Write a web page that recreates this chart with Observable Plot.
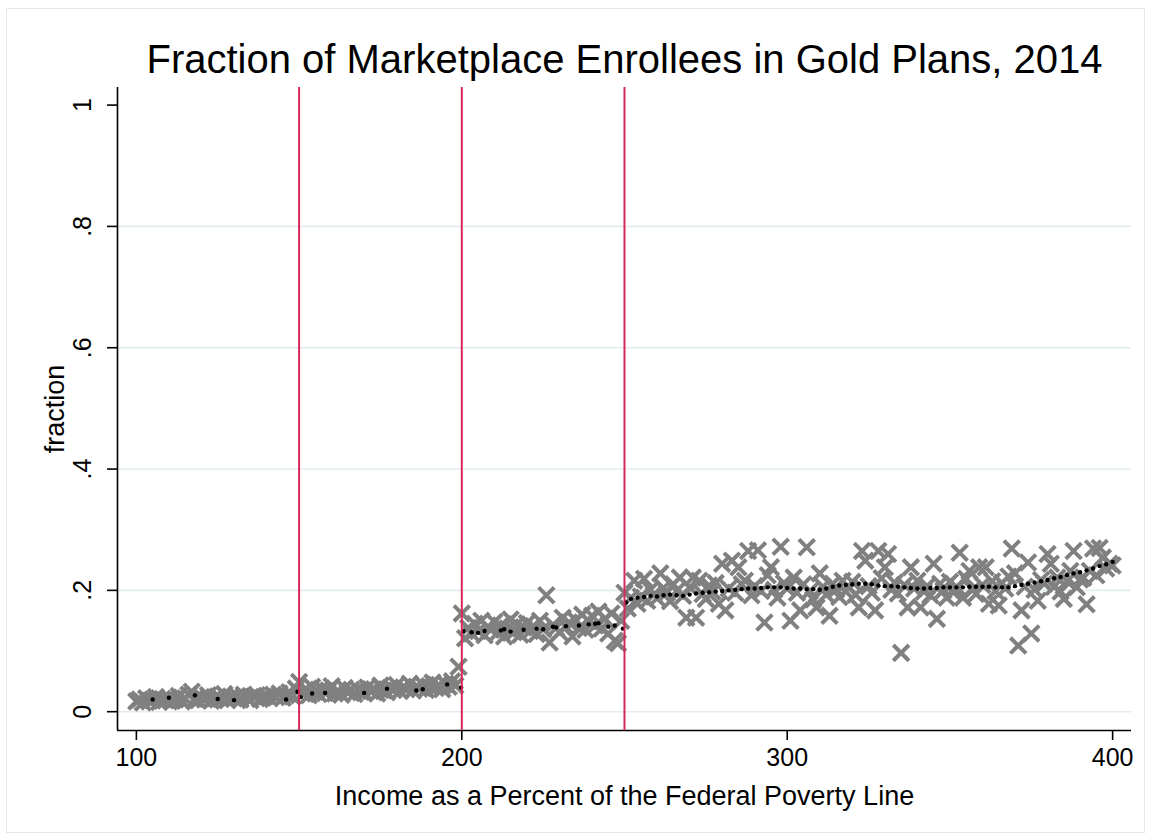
<!DOCTYPE html>
<html>
<head>
<meta charset="utf-8">
<script src="https://cdn.jsdelivr.net/npm/d3@7"></script>
<script src="https://cdn.jsdelivr.net/npm/@observablehq/plot@0.6"></script>
<style>
  html, body { margin: 0; padding: 0; background: #fff; }
  #chart { position: relative; width: 1151px; height: 839px; font-family: "Liberation Sans", Arial, Helvetica, sans-serif; }
  #chart .border { position: absolute; left: 6px; top: 8px; width: 1139px; height: 825px; border: 1px solid #e3e8eb; box-sizing: border-box; pointer-events: none; }
  #chart svg { position: absolute; left: 0; top: 0; overflow: visible; }
</style>
</head>
<body>
<div id="chart"><div class="border"></div></div>
<script>
// Chart text
const titleText = "Fraction of Marketplace Enrollees in Gold Plans, 2014";
const xLabelText = "Income as a Percent of the Federal Poverty Line";
const yLabelText = "fraction";

// Axis ticks and subsidy cutoffs (percent of FPL)
const xTicks = [100, 200, 300, 400];
const yTicks = [0, 0.2, 0.4, 0.6, 0.8, 1];
const yGrid = [0, 0.2, 0.4, 0.6, 0.8];
const cutoffs = [150, 200, 250];
const xDomain = [94.2, 405.8];
const yDomain = [-0.031, 1.029];

// Gold-plan share by income, one value per percentage point of FPL
const share100to149 = [
  0.017, 0.020, 0.015, 0.022, 0.018, 0.019, 0.024, 0.016, 0.021, 0.019,
  0.023, 0.018, 0.020, 0.026, 0.017, 0.022, 0.028, 0.033, 0.021, 0.019,
  0.024, 0.020, 0.027, 0.018, 0.022, 0.025, 0.021, 0.029, 0.019, 0.024,
  0.022, 0.026, 0.020, 0.028, 0.023, 0.019, 0.025, 0.027, 0.021, 0.024,
  0.026, 0.022, 0.028, 0.024, 0.030, 0.023, 0.027, 0.032, 0.025, 0.038
];
const share150to199 = [
  0.049, 0.030, 0.036, 0.027, 0.041, 0.033, 0.029, 0.038, 0.031, 0.035,
  0.042, 0.030, 0.034, 0.028, 0.039, 0.032, 0.036, 0.029, 0.037, 0.033,
  0.031, 0.040, 0.034, 0.037, 0.030, 0.043, 0.035, 0.032, 0.039, 0.036,
  0.044, 0.034, 0.040, 0.037, 0.046, 0.035, 0.041, 0.038, 0.045, 0.036,
  0.042, 0.048, 0.039, 0.044, 0.037, 0.046, 0.041, 0.050, 0.043, 0.074
];
const share200to249 = [
  0.162, 0.121, 0.138, 0.129, 0.145, 0.133, 0.150, 0.126, 0.140, 0.135,
  0.148, 0.130, 0.142, 0.124, 0.137, 0.152, 0.131, 0.144, 0.127, 0.139,
  0.146, 0.133, 0.141, 0.128, 0.150, 0.136, 0.192, 0.114, 0.143, 0.138,
  0.131, 0.155, 0.140, 0.147, 0.124, 0.151, 0.138, 0.160, 0.135, 0.149,
  0.158, 0.142, 0.165, 0.137, 0.153, 0.129, 0.162, 0.117, 0.113, 0.150
];
const share250to400 = [
  0.196, 0.170, 0.188, 0.216, 0.178, 0.190, 0.219, 0.183, 0.201, 0.193,
  0.187, 0.228, 0.204, 0.196, 0.182, 0.210, 0.199, 0.221, 0.191, 0.155,
  0.205, 0.221, 0.155, 0.216, 0.194, 0.186, 0.208, 0.198, 0.212, 0.178,
  0.244, 0.167, 0.203, 0.249, 0.196, 0.238, 0.210, 0.216, 0.265, 0.192,
  0.207, 0.266, 0.199, 0.147, 0.225, 0.238, 0.201, 0.188, 0.272, 0.212,
  0.203, 0.150, 0.221, 0.196, 0.167, 0.210, 0.271, 0.199, 0.185, 0.172,
  0.228, 0.206, 0.193, 0.158, 0.211, 0.201, 0.189, 0.216, 0.198, 0.205,
  0.214, 0.193, 0.172, 0.265, 0.249, 0.207, 0.196, 0.167, 0.265, 0.220,
  0.238, 0.260, 0.201, 0.213, 0.195, 0.097, 0.209, 0.172, 0.238, 0.203,
  0.216, 0.172, 0.198, 0.207, 0.192, 0.244, 0.153, 0.211, 0.200, 0.188,
  0.214, 0.197, 0.206, 0.262, 0.188, 0.219, 0.232, 0.201, 0.194, 0.238,
  0.209, 0.238, 0.178, 0.215, 0.199, 0.175, 0.212, 0.203, 0.223, 0.269,
  0.228, 0.109, 0.167, 0.206, 0.246, 0.129, 0.201, 0.183, 0.217, 0.211,
  0.260, 0.244, 0.206, 0.221, 0.198, 0.186, 0.215, 0.232, 0.265, 0.205,
  0.218, 0.221, 0.177, 0.232, 0.269, 0.225, 0.270, 0.254, 0.236, 0.244,
  0.241
];

// Smoothed fraction, [income, fraction]
const fitBelow200 = [
  [105, 0.020], [110, 0.023], [118, 0.027], [125, 0.021], [130, 0.019],
  [146, 0.020], [149.5, 0.033], [150.5, 0.024], [154, 0.030], [158, 0.031],
  [170, 0.031], [177, 0.038], [186, 0.035], [188, 0.037], [195.5, 0.045],
  [199.8, 0.040]
];
const fit200to249 = [
  [200.5, 0.133], [203, 0.131], [205, 0.130], [207, 0.133], [212, 0.134],
  [213, 0.136], [215, 0.132], [219, 0.135], [223, 0.137], [225, 0.136],
  [228, 0.140], [229, 0.139], [232, 0.141], [236, 0.142], [239, 0.144],
  [241, 0.145], [242, 0.146], [245, 0.140], [247, 0.142], [249.5, 0.137]
];
const fit250to400 = [
  [250.5, 0.180], [252, 0.186], [254, 0.188], [256, 0.189], [258, 0.191],
  [260, 0.190], [262, 0.192], [264, 0.193], [266, 0.192], [268, 0.191],
  [270, 0.193], [272, 0.195], [274, 0.196], [276, 0.197], [278, 0.198],
  [280, 0.199], [282, 0.200], [284, 0.201], [286, 0.202], [288, 0.203],
  [290, 0.203], [292, 0.204], [294, 0.205], [296, 0.205], [298, 0.205],
  [300, 0.204], [302, 0.203], [304, 0.203], [306, 0.202], [308, 0.202],
  [310, 0.201], [312, 0.203], [314, 0.206], [316, 0.208], [318, 0.209],
  [320, 0.210], [322, 0.211], [324, 0.211], [326, 0.210], [328, 0.208],
  [330, 0.207], [332, 0.207], [334, 0.206], [336, 0.205], [338, 0.204],
  [340, 0.203], [342, 0.203], [344, 0.204], [346, 0.204], [348, 0.205],
  [350, 0.205], [352, 0.205], [354, 0.205], [356, 0.206], [358, 0.206],
  [360, 0.206], [362, 0.206], [364, 0.205], [366, 0.205], [368, 0.205],
  [370, 0.207], [372, 0.209], [374, 0.211], [376, 0.213], [378, 0.215],
  [380, 0.217], [382, 0.220], [384, 0.222], [386, 0.225], [388, 0.228],
  [390, 0.230], [392, 0.233], [394, 0.236], [396, 0.240], [398, 0.243],
  [400, 0.247]
];

// Build the point table: each segment starts at its first income value
const segments = [
  [100, share100to149], [150, share150to199], [200, share200to249], [250, share250to400]
];
const points = segments.flatMap(([start, values]) =>
  values.map((fraction, i) => ({income: start + i, fraction}))
);
const fit = [...fitBelow200, ...fit200to249, ...fit250to400]
  .map(([income, fraction]) => ({income, fraction}));

const fmtY = d => d === 0 ? "0" : d === 1 ? "1" : String(d).replace(/^0/, "");
const font = '"Liberation Sans", Arial, Helvetica, sans-serif';

const chart = Plot.plot({
  width: 1151,
  height: 839,
  marginLeft: 117,
  marginRight: 20,
  marginTop: 87,
  marginBottom: 109,
  style: {fontFamily: font, color: "#000", background: "transparent", overflow: "visible"},
  x: {domain: xDomain},
  y: {domain: yDomain},
  marks: [
    Plot.gridY(yGrid, {stroke: "#e2ecf0", strokeOpacity: 1, strokeWidth: 1.6}),
    Plot.ruleX([xDomain[0]], {stroke: "#000", strokeWidth: 1.6}),
    Plot.ruleY([yDomain[0]], {stroke: "#000", strokeWidth: 1.6}),
    Plot.axisX({ticks: xTicks, tickSize: 10, tickPadding: 8, fontSize: 25, strokeWidth: 1.6, label: null, tickFormat: d => String(d)}),
    Plot.axisY({ticks: yTicks, tickSize: 10, fill: "none", strokeWidth: 1.6, label: null}),
    Plot.text(yTicks, {y: d => d, text: fmtY, frameAnchor: "left", dx: -35, rotate: -90,
      fontSize: 25, textAnchor: "middle", lineAnchor: "middle"}),
    Plot.dot(points, {x: "income", y: "fraction", symbol: "times", r: 7.2, stroke: "#808080", strokeWidth: 4}),
    Plot.dot(fit, {x: "income", y: "fraction", r: 2.2, fill: "#000", stroke: null}),
    Plot.ruleX(cutoffs, {stroke: "#d8285a", strokeWidth: 2}),
    Plot.text([titleText], {frameAnchor: "top", dy: -27, fontSize: 40, lineAnchor: "middle"}),
    Plot.text([xLabelText], {frameAnchor: "bottom", dy: 66, fontSize: 27, lineAnchor: "middle"}),
    Plot.text([yLabelText], {frameAnchor: "left", dx: -62, rotate: -90, fontSize: 27, textAnchor: "middle", lineAnchor: "middle"})
  ]
});

document.getElementById("chart").appendChild(chart);
</script>
</body>
</html>
